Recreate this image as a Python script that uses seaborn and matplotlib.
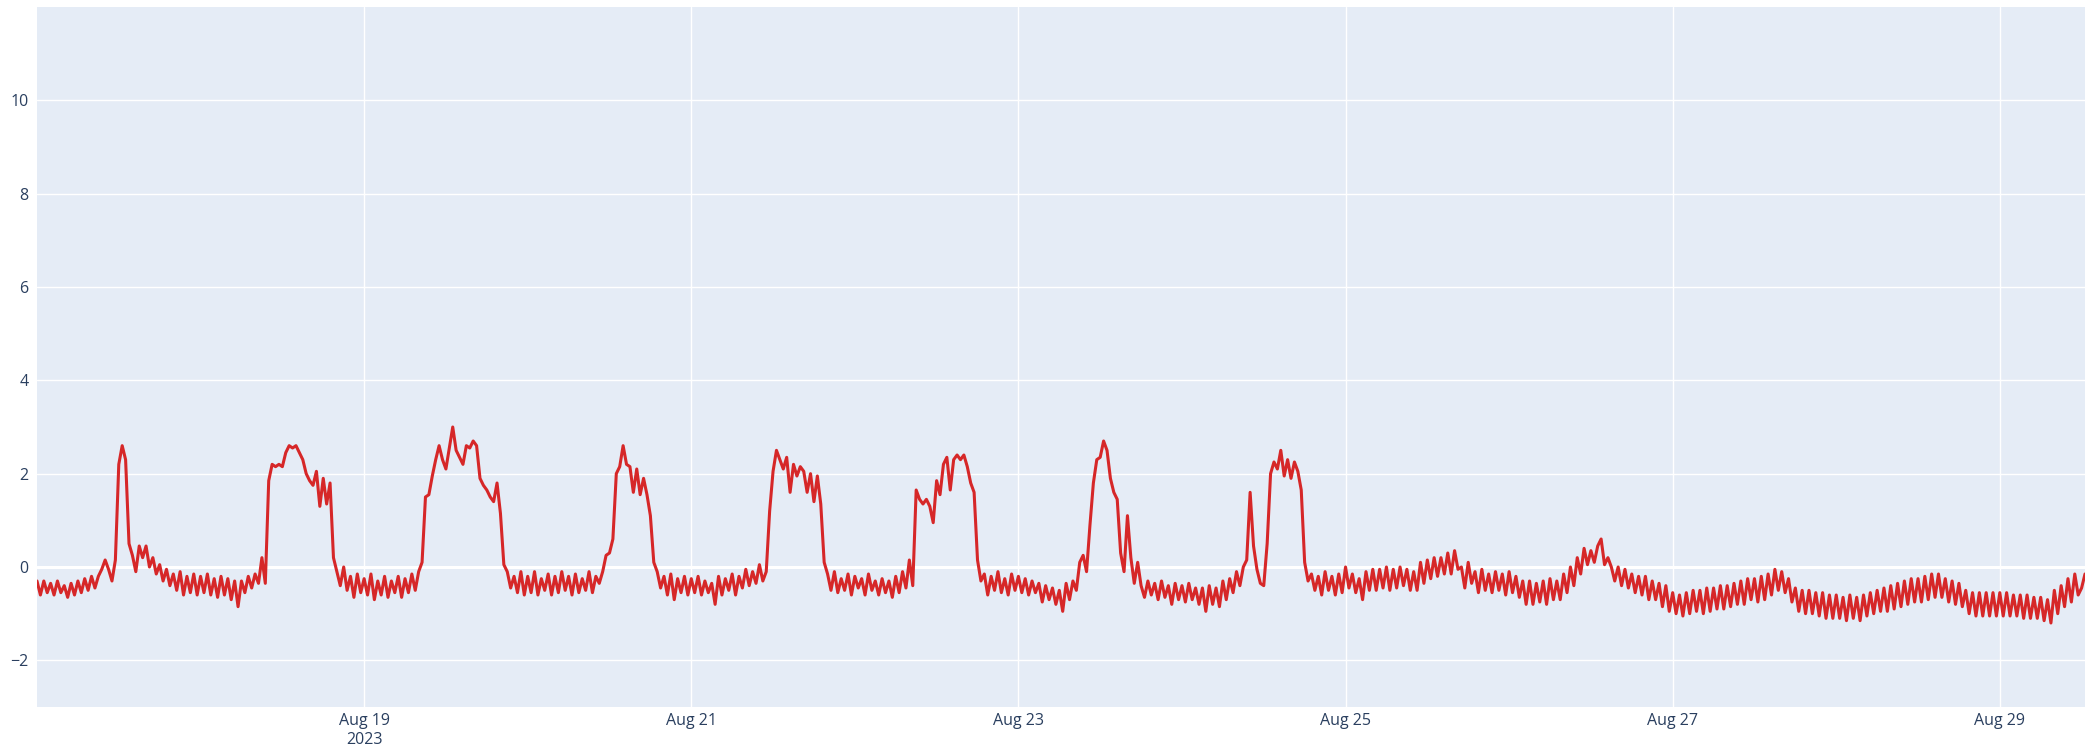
import pandas as pd
import numpy as np
import matplotlib
matplotlib.use("Agg")
import matplotlib.pyplot as plt
import seaborn as sns

# ==========================================
# DATA (half-hourly readings, Aug 17 00:00 -> Aug 29 12:30)
# ==========================================

aug17 = [-0.3, -0.6, -0.3, -0.55, -0.35, -0.6, -0.3, -0.55, -0.4, -0.65, -0.35, -0.6,
         -0.3, -0.55, -0.25, -0.5, -0.2, -0.45, -0.2, -0.05, 0.15, -0.05, -0.3, 0.15,
         2.2, 2.6, 2.3, 0.5, 0.25, -0.1, 0.45, 0.2, 0.45, 0.0, 0.2, -0.15,
         0.05, -0.3, -0.05, -0.4, -0.15, -0.5, -0.1, -0.6, -0.2, -0.55, -0.15, -0.6]
aug18 = [-0.2, -0.55, -0.15, -0.6, -0.25, -0.65, -0.2, -0.6, -0.25, -0.7, -0.3, -0.85,
         -0.3, -0.55, -0.2, -0.45, -0.15, -0.35, 0.2, -0.35, 1.85, 2.2, 2.15, 2.2,
         2.15, 2.45, 2.6, 2.55, 2.6, 2.45, 2.3, 2.0, 1.85, 1.75, 2.05, 1.3,
         1.9, 1.35, 1.8, 0.2, -0.1, -0.4, 0.0, -0.5, -0.2, -0.65, -0.15, -0.55]
aug19 = [-0.25, -0.6, -0.15, -0.7, -0.3, -0.6, -0.2, -0.65, -0.3, -0.55, -0.2, -0.65,
         -0.25, -0.55, -0.15, -0.5, -0.1, 0.1, 1.5, 1.55, 1.95, 2.3, 2.6, 2.3,
         2.1, 2.55, 3.0, 2.5, 2.35, 2.2, 2.6, 2.55, 2.7, 2.6, 1.9, 1.75,
         1.65, 1.5, 1.4, 1.8, 1.15, 0.05, -0.1, -0.45, -0.2, -0.55, -0.1, -0.6]
aug20 = [-0.2, -0.55, -0.1, -0.6, -0.25, -0.5, -0.15, -0.6, -0.2, -0.55, -0.1, -0.5,
         -0.2, -0.6, -0.15, -0.55, -0.25, -0.5, -0.1, -0.55, -0.2, -0.35, -0.1, 0.25,
         0.3, 0.6, 2.0, 2.15, 2.6, 2.2, 2.15, 1.6, 2.1, 1.55, 1.9, 1.55,
         1.1, 0.1, -0.1, -0.45, -0.2, -0.6, -0.15, -0.7, -0.25, -0.55, -0.2, -0.6]
aug21 = [-0.25, -0.55, -0.2, -0.6, -0.3, -0.55, -0.35, -0.8, -0.2, -0.6, -0.25, -0.5,
         -0.15, -0.6, -0.2, -0.45, -0.05, -0.4, -0.1, -0.35, 0.05, -0.3, -0.1, 1.2,
         2.05, 2.5, 2.3, 2.1, 2.35, 1.6, 2.2, 1.95, 2.15, 2.05, 1.6, 2.0,
         1.4, 1.95, 1.35, 0.1, -0.15, -0.5, -0.1, -0.55, -0.25, -0.5, -0.15, -0.6]
aug22 = [-0.2, -0.45, -0.25, -0.6, -0.15, -0.5, -0.3, -0.6, -0.25, -0.55, -0.3, -0.65,
         -0.2, -0.55, -0.1, -0.45, 0.15, -0.4, 1.65, 1.45, 1.35, 1.45, 1.3, 0.95,
         1.85, 1.55, 2.2, 2.35, 1.65, 2.3, 2.4, 2.3, 2.4, 2.15, 1.8, 1.6,
         0.15, -0.3, -0.15, -0.6, -0.2, -0.5, -0.1, -0.55, -0.25, -0.6, -0.15, -0.5]
aug23 = [-0.2, -0.55, -0.25, -0.6, -0.3, -0.55, -0.35, -0.75, -0.4, -0.7, -0.45, -0.8,
         -0.5, -0.95, -0.35, -0.7, -0.3, -0.5, 0.1, 0.25, -0.1, 0.9, 1.8, 2.3,
         2.35, 2.7, 2.5, 1.9, 1.6, 1.45, 0.3, -0.1, 1.1, 0.2, -0.35, 0.1,
         -0.4, -0.65, -0.3, -0.6, -0.35, -0.7, -0.3, -0.65, -0.4, -0.8, -0.35, -0.7]
aug24 = [-0.4, -0.75, -0.35, -0.7, -0.45, -0.8, -0.45, -0.95, -0.4, -0.8, -0.45, -0.85,
         -0.3, -0.7, -0.25, -0.55, -0.1, -0.4, 0.0, 0.15, 1.6, 0.45, -0.05, -0.35,
         -0.4, 0.5, 2.0, 2.25, 2.1, 2.5, 1.95, 2.3, 1.9, 2.25, 2.05, 1.65,
         0.1, -0.3, -0.15, -0.5, -0.2, -0.6, -0.1, -0.5, -0.2, -0.6, -0.15, -0.55]
aug25 = [0.0, -0.45, -0.15, -0.55, -0.25, -0.7, -0.1, -0.5, -0.05, -0.5, -0.05, -0.45,
         0.0, -0.5, -0.05, -0.45, 0.0, -0.4, -0.05, -0.5, -0.1, -0.5, 0.1, -0.35,
         0.15, -0.25, 0.2, -0.2, 0.2, -0.15, 0.3, -0.15, 0.35, -0.05, 0.0, -0.45,
         0.1, -0.35, -0.1, -0.55, -0.05, -0.5, -0.15, -0.55, -0.1, -0.5, -0.15, -0.6]
aug26 = [-0.1, -0.55, -0.2, -0.65, -0.3, -0.8, -0.3, -0.8, -0.35, -0.75, -0.3, -0.8,
         -0.25, -0.7, -0.3, -0.7, -0.15, -0.55, 0.0, -0.4, 0.2, -0.15, 0.4, 0.05,
         0.35, 0.1, 0.45, 0.6, 0.05, 0.2, 0.0, -0.3, 0.0, -0.4, -0.05, -0.45,
         -0.15, -0.55, -0.2, -0.6, -0.2, -0.7, -0.3, -0.7, -0.35, -0.85, -0.4, -0.95]
aug27 = [-0.55, -1.0, -0.6, -1.05, -0.55, -1.0, -0.5, -0.95, -0.5, -1.0, -0.45, -0.95,
         -0.45, -0.9, -0.4, -0.9, -0.4, -0.85, -0.35, -0.8, -0.3, -0.8, -0.25, -0.7,
         -0.25, -0.75, -0.2, -0.7, -0.15, -0.6, -0.05, -0.5, -0.1, -0.55, -0.25, -0.75,
         -0.45, -0.95, -0.5, -1.0, -0.5, -1.0, -0.55, -1.05, -0.55, -1.1, -0.6, -1.1]
aug28 = [-0.6, -1.1, -0.65, -1.15, -0.6, -1.1, -0.65, -1.15, -0.6, -1.05, -0.55, -1.0,
         -0.5, -0.95, -0.45, -0.95, -0.4, -0.9, -0.35, -0.85, -0.3, -0.8, -0.25, -0.75,
         -0.25, -0.75, -0.2, -0.7, -0.15, -0.65, -0.15, -0.65, -0.25, -0.75, -0.3, -0.8,
         -0.35, -0.85, -0.5, -1.0, -0.55, -1.05, -0.55, -1.05, -0.55, -1.05, -0.55, -1.05]
aug29 = [-0.55, -1.05, -0.55, -1.05, -0.6, -1.05, -0.6, -1.1, -0.6, -1.1, -0.65, -1.1,
         -0.65, -1.15, -0.7, -1.2, -0.5, -1.0, -0.4, -0.85, -0.25, -0.75, -0.15, -0.6,
         -0.45, -0.15]

values = aug17 + aug18 + aug19 + aug20 + aug21 + aug22 + aug23 + aug24 + \
    aug25 + aug26 + aug27 + aug28 + aug29

start_time = "2023-08-17 00:00"
tick_dates = ["2023-08-19", "2023-08-21", "2023-08-23", "2023-08-25",
              "2023-08-27", "2023-08-29"]
tick_labels = ["Aug 19\n2023", "Aug 21", "Aug 23", "Aug 25", "Aug 27", "Aug 29"]
y_ticks = [-2, 0, 2, 4, 6, 8, 10]
y_labels = ["\u22122", "0", "2", "4", "6", "8", "10"]

df = pd.DataFrame({
    "time": pd.date_range(start_time, periods=len(values), freq="30min"),
    "value": values,
})

# ==========================================
# PLOT
# ==========================================

sns.set_theme(style="darkgrid")
plt.rcParams["font.family"] = ["Open Sans", "DejaVu Sans"]

fig = plt.figure(figsize=(20.85, 7.45), dpi=100)
ax = fig.add_axes([37 / 2085, 38 / 745, 1 - 37 / 2085, 700 / 745])
ax.set_facecolor("#E5ECF6")

sns.lineplot(data=df, x="time", y="value", ax=ax, color="#d62728", linewidth=2.2)

ax.set_xlim(df["time"].iloc[0], df["time"].iloc[-1])
ax.set_ylim(-3, 12)

ax.set_xticks(pd.to_datetime(tick_dates))
ax.set_xticklabels(tick_labels)
ax.set_yticks(y_ticks)
ax.set_yticklabels(y_labels)

ax.grid(True, color="white", linewidth=1.0)
ax.axhline(0, color="white", linewidth=2.2, zorder=1.5)

ax.tick_params(axis="both", length=0, labelsize=11.5, colors="#2a3f5f", pad=6)
ax.tick_params(axis="x", pad=4)
for lbl in ax.get_xticklabels():
    lbl.set_linespacing(1.25)

for s in ax.spines.values():
    s.set_visible(False)

ax.set_xlabel("")
ax.set_ylabel("")

fig.savefig("out.png", dpi=100, facecolor="white")
